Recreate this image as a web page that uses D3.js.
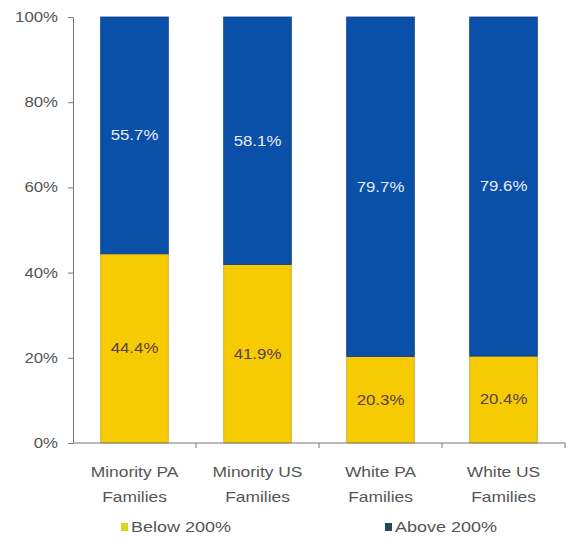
<!DOCTYPE html>
<html>
<head>
<meta charset="utf-8">
<script src="https://cdn.jsdelivr.net/npm/d3@7"></script>
<style>
  html, body { margin: 0; padding: 0; background: #fff; }
  svg { display: block; }
  text { font-family: "Liberation Sans", Arial, sans-serif; }
</style>
</head>
<body>
<svg id="chart" width="569" height="542"></svg>
<script>
const categories = [["Minority PA", "Families"], ["Minority US", "Families"], ["White PA", "Families"], ["White US", "Families"]];
const below200 = [44.4, 41.9, 20.3, 20.4];
const above200 = [55.7, 58.1, 79.7, 79.6];
const seriesNames = ["Below 200%", "Above 200%"];
const seriesColors = ["#f7cb02", "#0a4fa8"];
const yTicks = [0, 20, 40, 60, 80, 100];

const svg = d3.select("#chart");
const mLeft = 73, mRight = 565, mTop = 17, mBottom = 443;
const sx = 1.2; // horizontal stretch seen in the reference text

const x = d3.scaleBand().domain(d3.range(categories.length)).range([mLeft, mRight]).paddingInner(0.45).paddingOuter(0.225);
const y = d3.scaleLinear().domain([0, 100]).range([mBottom, mTop]);

const rows = categories.map((c, i) => ({ i, below: below200[i], above: above200[i] }));
const stack = d3.stack().keys(["below", "above"])(rows);

stack.forEach((layer, li) => {
  svg.append("g").selectAll("rect").data(layer).join("rect")
    .attr("x", d => x(d.data.i))
    .attr("width", x.bandwidth())
    .attr("y", d => y(Math.min(d[1], 100)))
    .attr("height", d => y(d[0]) - y(Math.min(d[1], 100)))
    .attr("fill", seriesColors[li])
    .attr("stroke", li === 0 ? "#c9a640" : "#0a3f8a")
    .attr("stroke-width", 0.8);
  svg.append("g").selectAll("text").data(layer).join("text")
    .attr("transform", d => `translate(${x(d.data.i) + x.bandwidth() / 2},${(y(d[0]) + y(Math.min(d[1], 100))) / 2}) scale(${sx},1)`)
    .attr("dy", "0.35em")
    .attr("text-anchor", "middle")
    .attr("font-size", 14)
    .attr("fill", li === 0 ? "#5c3d4f" : "#e8ecf5")
    .text(d => (li === 0 ? d.data.below : d.data.above).toFixed(1) + "%");
});

// Y axis
const yAxis = svg.append("g").attr("transform", `translate(${mLeft},0)`)
  .call(d3.axisLeft(y).tickValues(yTicks).tickFormat(d => d + "%").tickSize(5).tickSizeOuter(0));
yAxis.selectAll("path, line").attr("stroke", "#777");
yAxis.selectAll("text").attr("font-size", 14).attr("fill", "#555").attr("x", 0)
  .attr("transform", `translate(-15,0) scale(${sx},1)`)
  .style("font-family", '"Liberation Sans", Arial, sans-serif');

// X axis
const xAxisG = svg.append("g").attr("transform", `translate(0,${mBottom})`);
xAxisG.append("line").attr("x1", mLeft).attr("x2", mRight).attr("stroke", "#777");
const boundaries = d3.range(1, categories.length + 1).map(k => mLeft + k * (mRight - mLeft) / categories.length);
xAxisG.selectAll("line.tk").data(boundaries).join("line").attr("class", "tk")
  .attr("x1", d => d).attr("x2", d => d).attr("y1", 0).attr("y2", 5).attr("stroke", "#777");

const labels = svg.append("g").selectAll("text").data(categories).join("text")
  .attr("text-anchor", "middle")
  .attr("font-size", 15)
  .attr("fill", "#555")
  .attr("transform", (d, i) => `translate(${x(i) + x.bandwidth() / 2},472) scale(1.16,1)`);
labels.each(function(d) {
  const t = d3.select(this);
  d.forEach((line, k) => t.append("tspan").attr("x", 0).attr("y", k * 25).attr("dy", "0.35em").text(line));
});

// Legend
const legendPos = [121, 385];
const legend = svg.append("g").selectAll("g").data(seriesNames).join("g")
  .attr("transform", (d, i) => `translate(${legendPos[i]},527)`);
legend.append("rect").attr("x", 0).attr("y", -4).attr("width", 7).attr("height", 8)
  .attr("fill", (d, i) => i === 0 ? "#d8d820" : "#1f4a5e");
legend.append("text").attr("transform", "translate(10,0) scale(1.2,1)").attr("dy", "0.35em")
  .attr("font-size", 15).attr("fill", "#555").text(d => d);
</script>
</body>
</html>
